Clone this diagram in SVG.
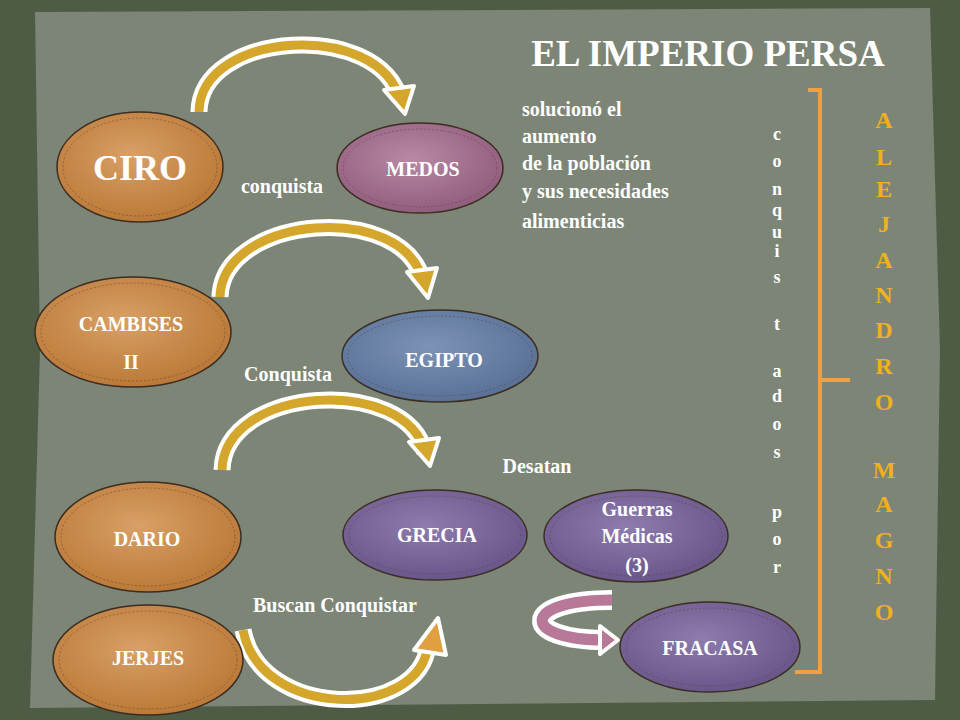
<svg xmlns="http://www.w3.org/2000/svg" width="960" height="720" viewBox="0 0 960 720">
<defs>
<radialGradient id="gOr" cx="45%" cy="40%" r="65%"><stop offset="0" stop-color="#d9a066"/><stop offset="1" stop-color="#b87634"/></radialGradient>
<radialGradient id="gPk" cx="45%" cy="40%" r="65%"><stop offset="0" stop-color="#b889a4"/><stop offset="1" stop-color="#8e5a7a"/></radialGradient>
<radialGradient id="gBl" cx="45%" cy="40%" r="65%"><stop offset="0" stop-color="#7d93b6"/><stop offset="1" stop-color="#566e95"/></radialGradient>
<radialGradient id="gPu" cx="45%" cy="40%" r="65%"><stop offset="0" stop-color="#8e7cae"/><stop offset="1" stop-color="#665488"/></radialGradient>
</defs>
<style>
.n{stroke:#3b2d22;stroke-width:1.5}
.in{fill:none;stroke:#5a4030;stroke-width:0.8;stroke-dasharray:2 2;opacity:.6}
.t{font-family:"Liberation Serif",serif;font-weight:bold;fill:#fff;text-anchor:middle}
.w{fill:none;stroke:#fff;stroke-width:17;stroke-linecap:butt}
.g{fill:none;stroke:#d4a72c;stroke-width:9}
.ah{stroke:#fff;stroke-width:4;stroke-linejoin:round}
.y{font-family:"Liberation Serif",serif;font-weight:bold;fill:#f0b020;font-size:24px;text-anchor:middle}
.c{font-family:"Liberation Serif",serif;font-weight:bold;fill:#fff;font-size:18px;text-anchor:middle}
</style>
<rect width="960" height="720" fill="#4f5c45"/>
<path d="M35,12 L930,8 L940,350 L935,700 L30,708 L40,350 Z" fill="#7c8576"/>
<text x="708" y="66" class="t" style="font-size:37px;fill:#fff">EL IMPERIO PERSA</text>
<g id="connectors">
<path class="w" d="M199,112 C200,30 380,20 400,100"/>
<path class="g" d="M199,112 C200,30 380,20 400,100"/>
<polygon class="ah" fill="#d4a72c" points="384,90 414,86 405,114"/>
<path class="w" d="M220,297 C222,215 405,200 423,282"/>
<path class="g" d="M220,297 C222,215 405,200 423,282"/>
<polygon class="ah" fill="#d4a72c" points="407,272 437,268 428,298"/>
<path class="w" d="M222,470 C224,385 408,375 425,453"/>
<path class="g" d="M222,470 C224,385 408,375 425,453"/>
<polygon class="ah" fill="#d4a72c" points="409,442 439,438 430,466"/>
<path class="w" d="M243,630 C260,720 420,720 428,645"/>
<path class="g" d="M243,630 C260,720 420,720 428,645" stroke="#e0a040"/>
<polygon class="ah" fill="#e0a040" points="414,650 438,618 446,655"/>
<path d="M612,600 C520,600 520,640 605,640" fill="none" stroke="#fff" stroke-width="20"/>
<path d="M612,600 C520,600 520,640 605,640" fill="none" stroke="#b87898" stroke-width="11"/>
<polygon class="ah" fill="#b87898" points="600,626 618,640 600,654"/>
<path d="M808,90 H820 V672 H795 M820,380 H850" fill="none" stroke="#f0a040" stroke-width="4"/>
</g>
<g id="ciro"><ellipse cx="140" cy="167" rx="83" ry="55" fill="url(#gOr)" class="n"/><ellipse cx="140" cy="167" rx="77" ry="49" class="in"/><text x="140" y="180" class="t" font-size="36">CIRO</text></g>
<g id="medos"><ellipse cx="420" cy="168" rx="83" ry="45" fill="url(#gPk)" class="n"/><ellipse cx="420" cy="168" rx="77" ry="39" class="in"/><text x="423" y="176" class="t" font-size="20">MEDOS</text></g>
<g id="cambises"><ellipse cx="133" cy="332" rx="98" ry="55" fill="url(#gOr)" class="n"/><ellipse cx="133" cy="332" rx="92" ry="49" class="in"/><text x="131" y="331" class="t" font-size="20">CAMBISES</text><text x="131" y="369" class="t" font-size="20">II</text></g>
<g id="egipto"><ellipse cx="440" cy="356" rx="98" ry="46" fill="url(#gBl)" class="n"/><ellipse cx="440" cy="356" rx="92" ry="40" class="in"/><text x="444" y="367" class="t" font-size="20">EGIPTO</text></g>
<g id="dario"><ellipse cx="148" cy="537" rx="93" ry="55" fill="url(#gOr)" class="n"/><ellipse cx="148" cy="537" rx="87" ry="49" class="in"/><text x="147" y="546" class="t" font-size="20">DARIO</text></g>
<g id="grecia"><ellipse cx="435" cy="535" rx="92" ry="45" fill="url(#gPu)" class="n"/><ellipse cx="435" cy="535" rx="86" ry="39" class="in"/><text x="437" y="542" class="t" font-size="20">GRECIA</text></g>
<g id="guerras"><ellipse cx="636" cy="536" rx="92" ry="46" fill="url(#gPu)" class="n"/><ellipse cx="636" cy="536" rx="86" ry="40" class="in"/><text x="637" y="516" class="t" font-size="20">Guerras</text><text x="637" y="543" class="t" font-size="20">Médicas</text><text x="637" y="572" class="t" font-size="20">(3)</text></g>
<g id="jerjes"><ellipse cx="148" cy="660" rx="95" ry="55" fill="url(#gOr)" class="n"/><ellipse cx="148" cy="660" rx="89" ry="49" class="in"/><text x="148" y="665" class="t" font-size="20">JERJES</text></g>
<g id="fracasa"><ellipse cx="710" cy="647" rx="90" ry="45" fill="url(#gPu)" class="n"/><ellipse cx="710" cy="647" rx="84" ry="39" class="in"/><text x="710" y="655" class="t" font-size="20">FRACASA</text></g>
<g id="labels" class="t" font-size="20">
<text x="282" y="193">conquista</text>
<text x="288" y="381">Conquista</text>
<text x="537" y="473">Desatan</text>
<text x="335" y="612">Buscan Conquistar</text>
<text x="522" y="116" style="text-anchor:start">solucionó el</text>
<text x="522" y="143" style="text-anchor:start">aumento</text>
<text x="522" y="170" style="text-anchor:start"> de la población</text>
<text x="522" y="198" style="text-anchor:start">y sus necesidades</text>
<text x="522" y="228" style="text-anchor:start"> alimenticias</text>
</g>
<g id="conquistados">
<text x="777" y="140" class="c">c</text><text x="777" y="167" class="c">o</text><text x="777" y="195" class="c">n</text><text x="777" y="216" class="c">q</text><text x="777" y="238" class="c">u</text><text x="777" y="257" class="c">i</text><text x="777" y="283" class="c">s</text><text x="777" y="330" class="c">t</text><text x="777" y="377" class="c">a</text><text x="777" y="402" class="c">d</text><text x="777" y="430" class="c">o</text><text x="777" y="458" class="c">s</text><text x="777" y="518" class="c">p</text><text x="777" y="545" class="c">o</text><text x="777" y="573" class="c">r</text>
</g>
<g id="alejandro">
<text x="884" y="128" class="y">A</text><text x="884" y="165" class="y">L</text><text x="884" y="197" class="y">E</text><text x="884" y="232" class="y">J</text><text x="884" y="268" class="y">A</text><text x="884" y="303" class="y">N</text><text x="884" y="338" class="y">D</text><text x="884" y="374" class="y">R</text><text x="884" y="410" class="y">O</text><text x="884" y="478" class="y">M</text><text x="884" y="512" class="y">A</text><text x="884" y="548" class="y">G</text><text x="884" y="584" class="y">N</text><text x="884" y="620" class="y">O</text>
</g>
</svg>
